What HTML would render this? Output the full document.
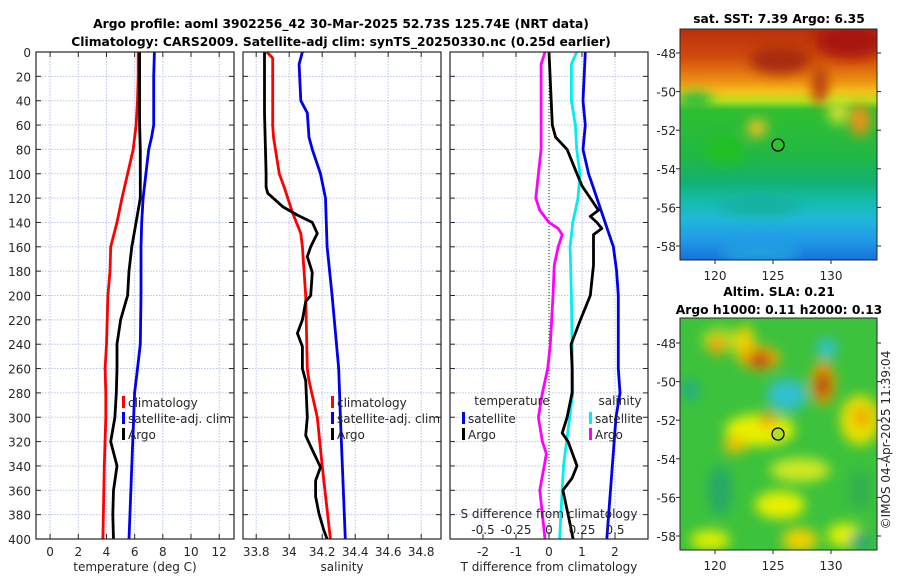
<!DOCTYPE html>
<html><head><meta charset="utf-8">
<style>
html,body{margin:0;padding:0;background:#fff;}
svg{display:block;font-family:"DejaVu Sans","Liberation Sans",sans-serif;}
.tl{font-size:12px;fill:#262626;}
.tt{font-size:12.3px;font-weight:bold;fill:#000;}
</style></head><body>
<svg id="fig" width="900" height="580" viewBox="0 0 900 580" xmlns="http://www.w3.org/2000/svg">
<defs>
<filter id="blur1" x="-50%" y="-50%" width="200%" height="200%"><feGaussianBlur stdDeviation="6"/></filter>
<clipPath id="clipMap1"><rect x="680" y="29" width="197" height="231"/></clipPath>
<clipPath id="clipMap2"><rect x="680" y="318" width="197" height="232"/></clipPath>
<linearGradient id="sstGrad" x1="0" y1="0" x2="0" y2="1">
<stop offset="0" stop-color="#b8300c"/><stop offset="0.12" stop-color="#d04a0c"/><stop offset="0.22" stop-color="#ec8c10"/>
<stop offset="0.27" stop-color="#f4c018"/><stop offset="0.31" stop-color="#b8e020"/><stop offset="0.35" stop-color="#30bf30"/>
<stop offset="0.55" stop-color="#22b845"/><stop offset="0.66" stop-color="#14b070"/><stop offset="0.74" stop-color="#14bca8"/>
<stop offset="0.82" stop-color="#20b8d8"/><stop offset="0.92" stop-color="#2098e8"/><stop offset="1" stop-color="#1870d8"/>
</linearGradient>
</defs>
<text class="tt" x="341" y="28" text-anchor="middle">Argo profile: aoml 3902256_42 30-Mar-2025 52.73S 125.74E (NRT data)</text>
<text class="tt" x="341" y="46" text-anchor="middle">Climatology: CARS2009. Satellite-adj clim: synTS_20250330.nc (0.25d earlier)</text>
<g id="panels"></g>

<g>
<text class="tt" x="779" y="23" text-anchor="middle">sat. SST: 7.39 Argo: 6.35</text>
<g clip-path="url(#clipMap1)">
<rect x="680" y="29" width="197" height="231" fill="url(#sstGrad)"/>
<g filter="url(#blur1)">
<ellipse cx="850" cy="40" rx="35" ry="18" fill="#a81808"/>
<ellipse cx="780" cy="60" rx="30" ry="14" fill="#a82a0a"/>
<ellipse cx="820" cy="85" rx="8" ry="20" fill="#b83a0a"/>
<ellipse cx="860" cy="120" rx="10" ry="16" fill="#f09018"/>
<ellipse cx="838" cy="112" rx="10" ry="12" fill="#d0e030"/>
<ellipse cx="757" cy="128" rx="10" ry="9" fill="#f0c020"/>
<ellipse cx="695" cy="100" rx="18" ry="8" fill="#28b840"/>
<ellipse cx="725" cy="150" rx="20" ry="14" fill="#20c020"/>
<ellipse cx="760" cy="205" rx="40" ry="10" fill="#18b0a0"/>
<ellipse cx="760" cy="252" rx="40" ry="10" fill="#20a0e0"/>
</g>
</g>
<rect x="680" y="29" width="197" height="231" fill="none" stroke="#262626" stroke-width="1"/>
<circle cx="778" cy="145" r="6" fill="#30c030" stroke="#000" stroke-width="1.3"/>
<g id="map1ticks"></g>
</g>

<g>
<text class="tt" x="779" y="296" text-anchor="middle">Altim. SLA: 0.21</text>
<text class="tt" x="779" y="314" text-anchor="middle">Argo h1000: 0.11 h2000: 0.13</text>
<g clip-path="url(#clipMap2)">
<rect x="680" y="318" width="197" height="232" fill="#3cc23c"/>
<g filter="url(#blur1)">
<ellipse cx="720" cy="340" rx="18" ry="12" fill="#a8e020"/>
<ellipse cx="745" cy="345" rx="10" ry="20" fill="#f0d000"/>
<ellipse cx="717" cy="345" rx="8" ry="10" fill="#f0a000"/>
<ellipse cx="760" cy="358" rx="20" ry="12" fill="#f0b000"/>
<ellipse cx="760" cy="360" rx="12" ry="8" fill="#c04010"/>
<ellipse cx="823" cy="383" rx="12" ry="22" fill="#f0a000"/>
<ellipse cx="823" cy="385" rx="6" ry="14" fill="#a81808"/>
<ellipse cx="787" cy="395" rx="20" ry="16" fill="#30c0d0"/>
<ellipse cx="827" cy="348" rx="10" ry="10" fill="#30c0d0"/>
<ellipse cx="690" cy="390" rx="8" ry="10" fill="#20a890"/>
<ellipse cx="860" cy="420" rx="20" ry="25" fill="#e8e000"/>
<ellipse cx="862" cy="417" rx="8" ry="10" fill="#f0a000"/>
<ellipse cx="760" cy="430" rx="35" ry="16" fill="#e8f000"/>
<ellipse cx="768" cy="420" rx="8" ry="8" fill="#f0a000"/>
<ellipse cx="735" cy="445" rx="12" ry="8" fill="#f0c000"/>
<ellipse cx="800" cy="470" rx="30" ry="12" fill="#d0e820"/>
<ellipse cx="780" cy="505" rx="25" ry="14" fill="#e8f000"/>
<ellipse cx="710" cy="540" rx="20" ry="10" fill="#e0f000"/>
<ellipse cx="800" cy="540" rx="18" ry="12" fill="#f0d000"/>
<ellipse cx="845" cy="535" rx="18" ry="12" fill="#e0f000"/>
<ellipse cx="720" cy="490" rx="12" ry="25" fill="#26a868"/>
<ellipse cx="860" cy="490" rx="12" ry="20" fill="#30b050"/>
<ellipse cx="860" cy="540" rx="10" ry="8" fill="#20a080"/>
</g>
</g>
<rect x="680" y="318" width="197" height="232" fill="none" stroke="#262626" stroke-width="1"/>
<circle cx="778" cy="434" r="6" fill="#b0e020" stroke="#000" stroke-width="1.3"/>
<g id="map2ticks"></g>
</g>
<text class="tl" transform="translate(890,440) rotate(-90)" text-anchor="middle">©IMOS 04-Apr-2025 11:39:04</text>
</svg>
<script>
const depthTicks = [0,20,40,60,80,100,120,140,160,180,200,220,240,260,280,300,320,340,360,380,400];
const tempTicks = [0,2,4,6,8,10,12];
const salTicks = [33.8,34,34.2,34.4,34.6,34.8];
const tdiffTicks = [-2,-1,0,1,2];
const sdiffTicks = [-0.5,-0.25,0,0.25,0.5];
const sdiffTickLabels = ["-0.5","-0.25","0","0.25","0.5"];

const tArgoDepth = [0,20,40,60,80,100,120,140,160,180,200,220,240,260,280,300,320,340,360,380,400];
const tArgo = [6.35,6.35,6.35,6.35,6.4,6.4,6.4,6.1,5.8,5.6,5.5,5.0,4.75,4.75,4.7,4.6,4.3,4.75,4.5,4.45,4.5];
const tClimDepth = [0,20,40,60,80,100,120,140,160,180,200,220,240,260,280,300,340,400];
const tClim = [6.25,6.25,6.2,6.1,5.9,5.5,5.1,4.75,4.3,4.25,4.1,4.05,4.0,3.9,3.95,3.95,3.85,3.75];
const tSatDepth = [0,20,40,60,70,80,100,120,140,160,200,240,260,280,400];
const tSat = [7.4,7.35,7.35,7.35,7.2,7.0,6.8,6.6,6.5,6.45,6.45,6.4,6.2,6.0,5.6];

const sArgoDepth = [0,50,100,111,116,127,134,140,149,160,168,181,200,205,220,231,242,260,270,300,315,324,341,352,365,379,393,400];
const sArgo = [33.85,33.85,33.86,33.86,33.87,33.96,34.05,34.14,34.17,34.13,34.11,34.14,34.13,34.10,34.08,34.05,34.08,34.08,34.10,34.11,34.10,34.13,34.19,34.16,34.16,34.18,34.21,34.23];
const sClimDepth = [0,5,20,60,70,100,111,132,149,160,200,260,270,300,340,400];
const sClim = [33.865,33.9,33.9,33.9,33.905,33.94,33.97,34.02,34.07,34.08,34.1,34.11,34.12,34.17,34.2,34.25];
const sSatDepth = [0,10,40,50,70,80,100,120,160,200,260,300,400];
const sSat = [34.08,34.06,34.07,34.11,34.12,34.14,34.19,34.22,34.23,34.26,34.3,34.31,34.34];

const dTArgoDepth = [0,60,70,80,100,110,120,130,135,140,145,150,175,200,220,240,260,280,300,313,320,340,350,360,380,400];
const dTArgo = [0.0,0.1,0.2,0.55,0.85,1.0,1.25,1.5,1.25,1.45,1.6,1.35,1.35,1.25,0.95,0.67,0.7,0.7,0.55,0.4,0.58,0.85,0.7,0.42,0.58,0.73];
const dSArgoDepth = [0,10,80,100,120,130,140,145,150,160,175,200,240,260,280,300,320,330,360,380,400];
const dSArgo = [-0.03,-0.06,-0.06,-0.08,-0.1,-0.07,0.0,0.07,0.1,0.07,0.04,0.03,0.01,-0.01,-0.05,-0.08,-0.05,-0.02,-0.07,-0.05,-0.03];
const dTSatDepth = [0,40,60,80,100,120,140,160,180,200,260,280,300,400];
const dTSat = [1.1,1.03,1.1,1.03,1.2,1.45,1.7,1.95,2.05,2.1,2.1,2.15,2.03,1.75];
const dSSatDepth = [0,10,40,60,80,100,120,140,160,200,280,340,400];
const dSSat = [0.21,0.17,0.17,0.2,0.21,0.235,0.22,0.18,0.16,0.17,0.18,0.11,0.08];

const mapLatTicks = [-48,-50,-52,-54,-56,-58];
const mapLonTicks = [120,125,130];

const NS = "http://www.w3.org/2000/svg";
const Y0 = 52, Y1 = 539;
function yScale(d){ return Y0 + (d/400)*(Y1-Y0); }
function mk(tag, attrs, parent){
  const e = document.createElementNS(NS, tag);
  for (const k in attrs) e.setAttribute(k, attrs[k]);
  parent.appendChild(e); return e;
}
const root = document.getElementById('panels');

function panel(name, x0, x1, dmin, dmax){
  const g = mk('g', {}, root);
  
  
  const xs = v => x0 + (v-dmin)/(dmax-dmin)*(x1-x0);
  return {g, xs, x0, x1};
}
function grid(p, xticks){
  xticks.forEach(t => {
    const l = mk('line', {x1:p.xs(t), x2:p.xs(t), y1:Y0, y2:Y1, stroke:'#b9c3ea', 'stroke-width':1, 'stroke-dasharray':'1.5,1.5'}, p.g);
    
    
  });
  depthTicks.forEach(d => {
    const l = mk('line', {x1:p.x0, x2:p.x1, y1:yScale(d), y2:yScale(d), stroke:'#b9c3ea', 'stroke-width':1, 'stroke-dasharray':'1.5,1.5'}, p.g);
    
    
  });
}
function frame(p, xticks, xlabels, showY){
  depthTicks.forEach(d => {
    const y = yScale(d);
    mk('line', {x1:p.x0, x2:p.x0+5, y1:y, y2:y, stroke:'#262626'}, p.g);
    mk('line', {x1:p.x1-5, x2:p.x1, y1:y, y2:y, stroke:'#262626'}, p.g);
    if (showY){
      const t = mk('text', {x:p.x0-5, y:y+5, 'text-anchor':'end', class:'tl'}, p.g);
      t.textContent = d;
      
      
    }
  });
  if (xticks) xticks.forEach((t,i) => {
    const x = p.xs(t);
    mk('line', {x1:x, x2:x, y1:Y1, y2:Y1-5, stroke:'#262626'}, p.g);
    mk('line', {x1:x, x2:x, y1:Y0, y2:Y0+5, stroke:'#262626'}, p.g);
    const tx = mk('text', {x:x, y:Y1+17, 'text-anchor':'middle', class:'tl'}, p.g);
    tx.textContent = xlabels ? xlabels[i] : t;
    
    
  });
  mk('rect', {x:p.x0, y:Y0, width:p.x1-p.x0, height:Y1-Y0, fill:'none', stroke:'#262626', 'stroke-width':1.2}, p.g);
}
function series(p, xs, depths, vals, color, name){
  const pts = vals.map((v,i) => xs(v).toFixed(1)+','+yScale(depths[i]).toFixed(1)).join(' ');
  const pl = mk('polyline', {points:pts, fill:'none', stroke:color, 'stroke-width':2.8, 'stroke-linejoin':'round'}, p.g);
  
  
}
function legend(g, x, y, color, label){
  mk('rect', {x:x, y:y-6, width:3, height:12, fill:color}, g);
  const t = mk('text', {x:x+6, y:y+5, class:'tl'}, g);
  t.textContent = label;
  
  
}
function label(g, x, y, txt, name){
  const t = mk('text', {x:x, y:y, 'text-anchor':'middle', class:'tl'}, g);
  t.textContent = txt;
  
  
}

const p1 = panel('temperature-panel', 36, 234, -1, 13.05);
grid(p1, tempTicks);
series(p1, p1.xs, tClimDepth, tClim, '#ff0000', 'temp-climatology-line');
series(p1, p1.xs, tSatDepth, tSat, '#0000ee', 'temp-satellite-line');
series(p1, p1.xs, tArgoDepth, tArgo, '#000000', 'temp-argo-line');
frame(p1, tempTicks, null, true);
label(p1.g, 135, 571, 'temperature (deg C)', 'x-axis-title-temperature');
legend(p1.g, 122, 402, '#ff0000', 'climatology');
legend(p1.g, 122, 418, '#0000ee', 'satellite-adj. clim');
legend(p1.g, 122, 434, '#000000', 'Argo');

const p2 = panel('salinity-panel', 243, 441, 33.72, 34.92);
grid(p2, salTicks);
series(p2, p2.xs, sClimDepth, sClim, '#ff0000', 'sal-climatology-line');
series(p2, p2.xs, sSatDepth, sSat, '#0000ee', 'sal-satellite-line');
series(p2, p2.xs, sArgoDepth, sArgo, '#000000', 'sal-argo-line');
frame(p2, salTicks, ['33.8','34','34.2','34.4','34.6','34.8'], false);
label(p2.g, 342, 571, 'salinity', 'x-axis-title-salinity');
legend(p2.g, 331, 402, '#ff0000', 'climatology');
legend(p2.g, 331, 418, '#0000ee', 'satellite-adj. clim');
legend(p2.g, 331, 434, '#000000', 'Argo');

const p3 = panel('difference-panel', 450, 648, -3, 3);
const sxs = v => p3.xs(v*4);
grid(p3, tdiffTicks);
const zl = mk('line', {x1:p3.xs(0), x2:p3.xs(0), y1:Y0, y2:Y1, stroke:'#2a5a2a', 'stroke-width':1.2, 'stroke-dasharray':'1,2'}, p3.g);


series(p3, sxs, dSArgoDepth, dSArgo, '#ff00ff', 'sdiff-argo-line');
series(p3, sxs, dSSatDepth, dSSat, '#00eeee', 'sdiff-satellite-line');
series(p3, p3.xs, dTSatDepth, dTSat, '#0000ee', 'tdiff-satellite-line');
series(p3, p3.xs, dTArgoDepth, dTArgo, '#000000', 'tdiff-argo-line');
frame(p3, tdiffTicks, null, false);
label(p3.g, 549, 571, 'T difference from climatology', 'x-axis-title-tdiff');
label(p3.g, 549, 518, 'S difference from climatology', 's-axis-title-sdiff');
sdiffTicks.forEach((t,i) => label(p3.g, sxs(t), 534, sdiffTickLabels[i], 's-tick-label'));
label(p3.g, 512, 405, 'temperature', 'legend-title-temperature');
label(p3.g, 620, 405, 'salinity', 'legend-title-salinity');
legend(p3.g, 462, 418, '#0000ee', 'satellite');
legend(p3.g, 462, 434, '#000000', 'Argo');
legend(p3.g, 589, 418, '#00eeee', 'satellite');
legend(p3.g, 589, 434, '#ff00ff', 'Argo');

function mapTicks(id, yTop, yBot, lat0y, lat1y){
  const g = document.getElementById(id);
  const lonX = lon => 715 + (lon-120)*11.6;
  const latY = lat => lat0y + (lat-(-48))/(-10)*(lat1y-lat0y);
  mapLatTicks.forEach(lat => {
    const y = latY(lat);
    mk('line', {x1:680, x2:676, y1:y, y2:y, stroke:'#262626'}, g);
    mk('line', {x1:877, x2:881, y1:y, y2:y, stroke:'#262626'}, g);
    const t = mk('text', {x:676, y:y+5, 'text-anchor':'end', class:'tl'}, g);
    t.textContent = lat;
    
    
  });
  mapLonTicks.forEach(lon => {
    const x = lonX(lon);
    mk('line', {x1:x, x2:x, y1:yBot, y2:yBot+4, stroke:'#262626'}, g);
    const t = mk('text', {x:x, y:yBot+20, 'text-anchor':'middle', class:'tl'}, g);
    t.textContent = lon;
    
    
  });
}
mapTicks('map1ticks', 29, 260, 53, 246);
mapTicks('map2ticks', 318, 550, 343, 536);
</script>
</body></html>
